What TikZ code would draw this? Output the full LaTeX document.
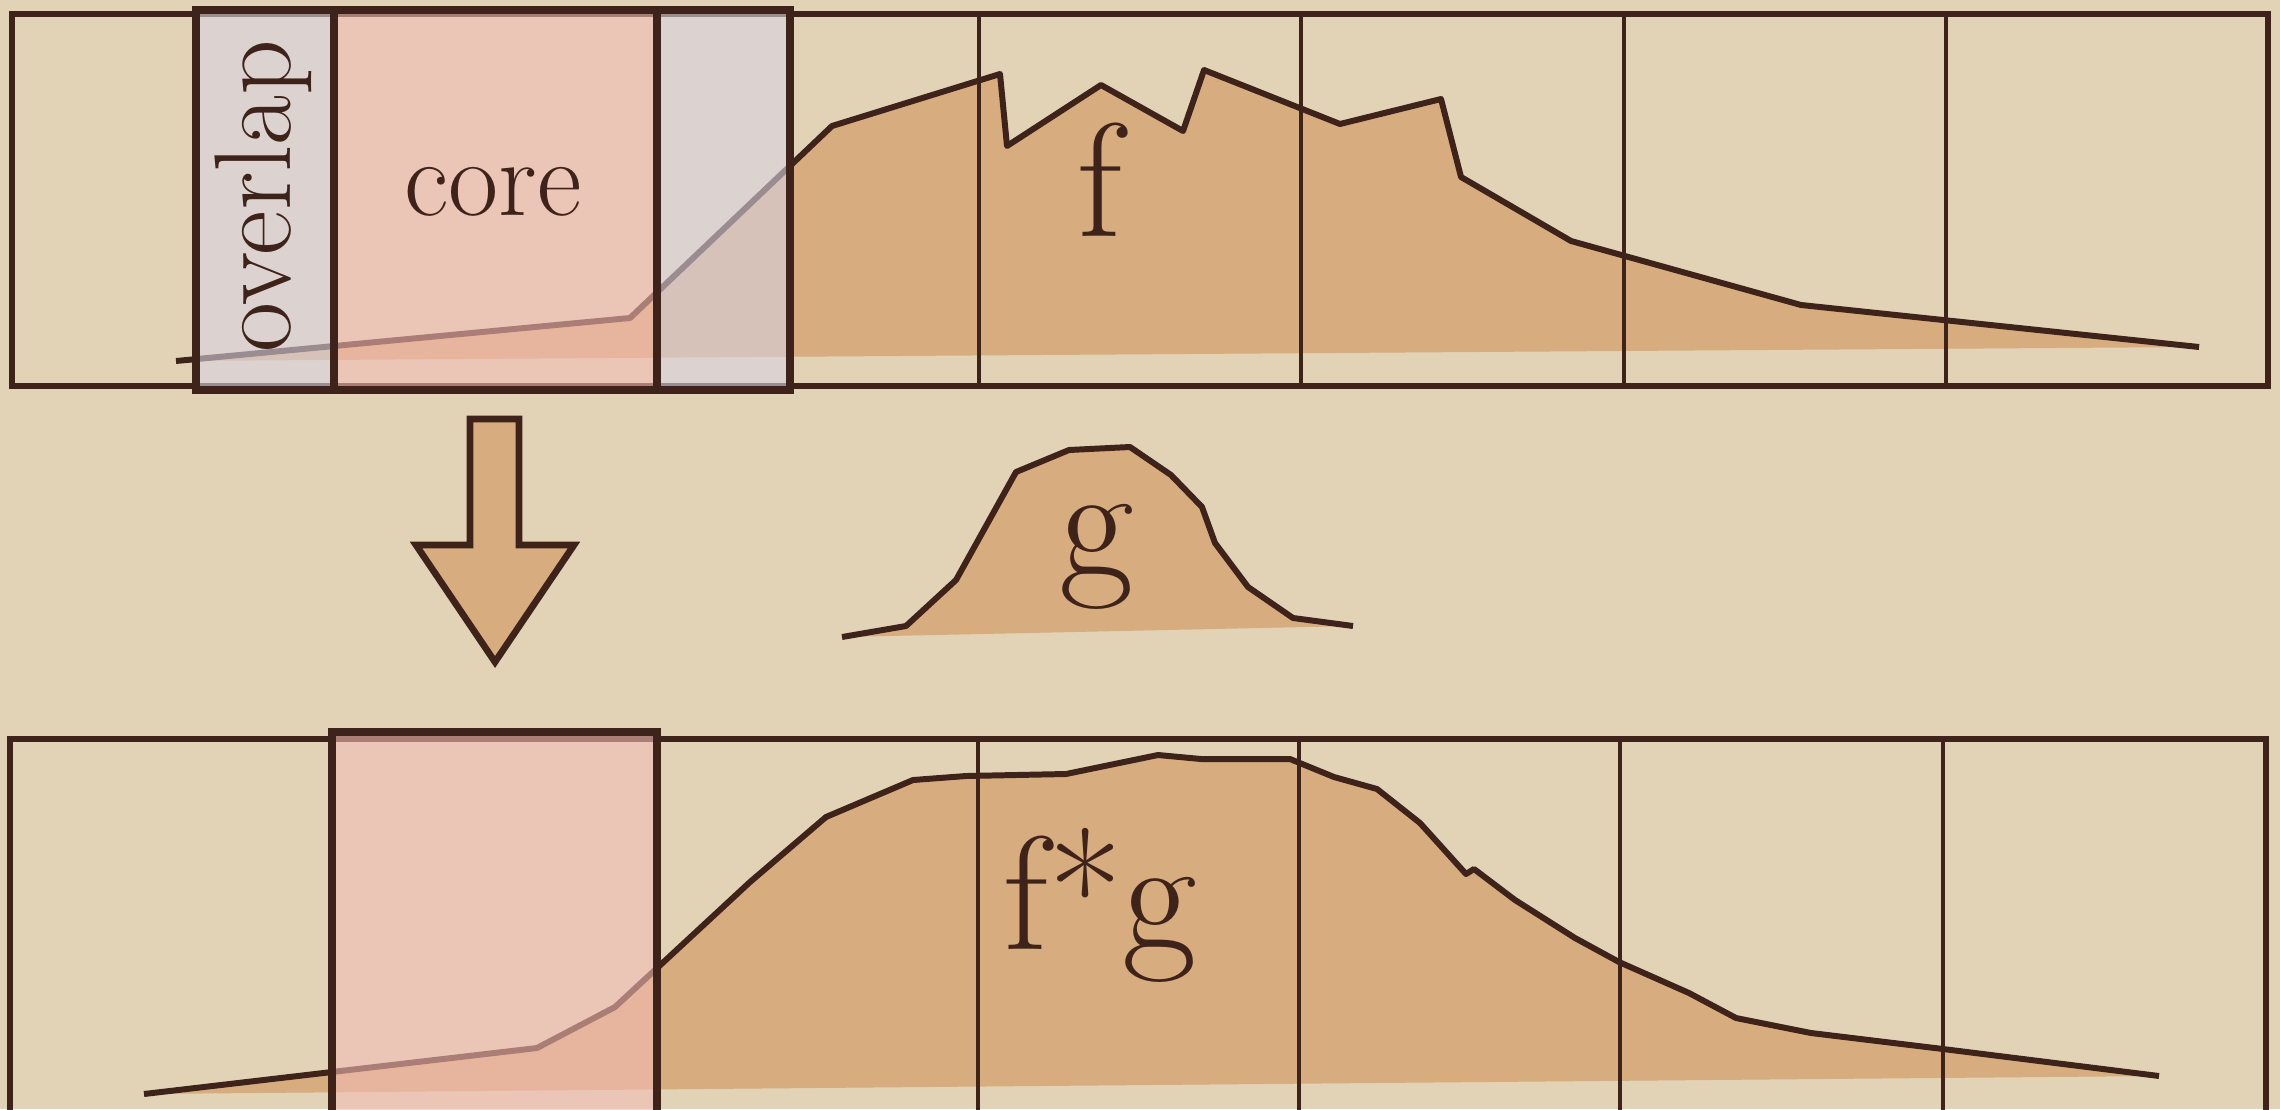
\documentclass[tikz,border=0pt]{standalone}
\usepackage{fontspec}
\usepackage{xcolor}
\definecolor{paper}{RGB}{226,211,183}
\definecolor{ink}{RGB}{62,35,27}
\definecolor{sand}{RGB}{215,172,126}
\definecolor{mist}{RGB}{216,210,225}
\definecolor{blush}{RGB}{242,188,180}
\usepackage{tikz}
\usetikzlibrary{positioning}
\newcommand{\fcurve}{(176,361) -- (630,318) -- (832,126) -- (1000,74) -- (1007,146) -- (1101,85) -- (1183,131) -- (1204,70) -- (1340,124) -- (1441,99) -- (1461,177) -- (1571,241) -- (1801,305) -- (2199,347)}
\newcommand{\gcurve}{(842,637) -- (906,626) -- (956,580) -- (1016,472) -- (1069,450) -- (1130,447) -- (1171,475) -- (1202,507) -- (1215,543) -- (1248,587) -- (1293,618) -- (1353,626)}
\newcommand{\fgcurve}{(144,1094) -- (537,1048) -- (615,1007) -- (750,882) -- (826,817) -- (913,780) -- (966,776) -- (1066,774) -- (1158,755) -- (1201,759) -- (1290,759) -- (1334,777) -- (1377,789) -- (1420,823) -- (1466,874) -- (1474,869) -- (1515,900) -- (1575,938) -- (1619,962) -- (1689,993) -- (1736,1018) -- (1811,1033) -- (1943,1049) -- (2159,1076)}

\begin{document}
\begin{tikzpicture}[x=0.01cm, y=-0.01cm,
  strip/.style={draw=ink, line width=1.7pt},
  cellline/.style={draw=ink, line width=1.3pt},
  curve/.style={draw=ink, line width=1.7pt, line join=round},
  area/.style={fill=sand},
  lap/.style={fill=mist, fill opacity=0.6},
  zone/.style={fill=blush, fill opacity=0.6},
  boxline/.style={draw=ink, line width=2pt},
  blockarrow/.style={draw=ink, fill=sand, line width=1.9pt},
  biglbl/.style={text=ink, font=\fontsize{46}{50}\selectfont},
  lbl/.style={text=ink, font=\fontsize{31}{33}\selectfont}
]
\useasboundingbox (0,0) rectangle (2280,1109);
\clip (0,0) rectangle (2280,1109);
\fill[paper] (0,0) rectangle (2280,1109);

\fill[area] \fcurve -- cycle;
\draw[strip] (12,14) rectangle (2268,386);
\draw[cellline] (334,14) -- (334,386) (657,14) -- (657,386) (979,14) -- (979,386)
  (1301,14) -- (1301,386) (1624,14) -- (1624,386) (1946,14) -- (1946,386);
\draw[curve] \fcurve;
\fill[lap] (196,10) rectangle (334,390) (657,10) rectangle (790,390);
\fill[zone] (334,10) rectangle (657,390);
\draw[boxline] (196,10) rectangle (790,390) (334,10) -- (334,390) (657,10) -- (657,390);
\node[lbl, rotate=90] (ov) at (263,196) {overlap};
\node[lbl]            (co) at (493,192) {core};
\node[biglbl]         (f)  at (1100,180) {f};

\draw[blockarrow] (470,419) -- (519,419) -- (519,545) -- (574,545) -- (495,662)
  -- (416,545) -- (470,545) -- cycle;

\fill[area] \gcurve -- cycle;
\draw[curve] \gcurve;
\node[biglbl] (g) at (1097,557) {g};

\fill[area] \fgcurve -- cycle;
\draw[strip] (10,739) rectangle (2266,1140);
\draw[cellline] (978,739) -- (978,1140) (1299,739) -- (1299,1140)
  (1620,739) -- (1620,1140) (1943,739) -- (1943,1140);
\draw[curve] \fgcurve;
\fill[zone] (332,732) rectangle (657,1140);
\draw[boxline] (332,732) rectangle (657,1140);
\node[biglbl] (fg) at (1100,905) {f*g};
\end{tikzpicture}
\end{document}
